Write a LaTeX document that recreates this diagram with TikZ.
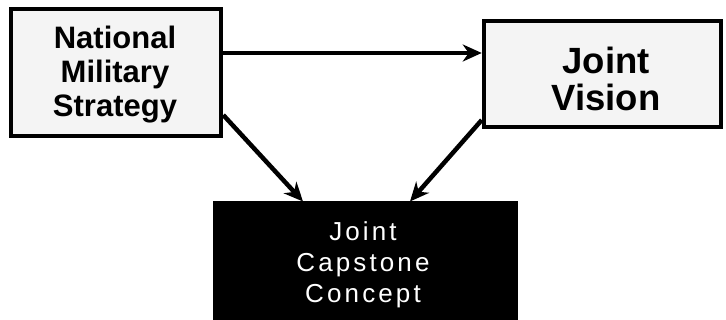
\documentclass[tikz,border=0pt]{standalone}
\usepackage{fontspec}
\setmainfont{Liberation Sans}
\usetikzlibrary{arrows.meta}
\begin{document}
\begin{tikzpicture}[x=1pt,y=-1pt,
  lightbox/.style={draw=black,line width=4.5pt,fill=gray!9,inner sep=0pt,align=center,font=\bfseries},
  darkbox/.style={draw=black,fill=black,line width=1pt,inner sep=0pt,align=center,text=white},
  conn/.style={line width=4.5pt,-{Stealth[length=19pt,width=17pt,inset=6pt]}}]
\useasboundingbox (0,0) rectangle (726,320);
\clip (0,0) rectangle (726,320);
\fill[white] (0,0) rectangle (726,320);
\node[lightbox,minimum width=210pt,minimum height=127pt] (nms) at (116,72.5) {};
\node[align=center,font=\bfseries\fontsize{31}{34}\selectfont] (nmstext) at (115,75) {National\\Military\\Strategy};
\node[lightbox,minimum width=237pt,minimum height=106pt] (jv) at (602.5,74) {};
\node[align=center,font=\bfseries\fontsize{36.5}{37}\selectfont] (jvtext) at (606,79) {Joint\\Vision};
\node[darkbox,minimum width=304pt,minimum height=128pt] (cap) at (365,266) {};
\node[text=white,align=center,font=\fontsize{26}{31}\selectfont\addfontfeatures{LetterSpace=12}] (captext) at (363,265) {Joint\\Capstone\\Concept};
\coordinate (h) at (0,53);
\coordinate (l1) at (0,115);
\coordinate (l2) at (0,120);
\coordinate (c1) at (303,0);
\coordinate (c2) at (410,0);
\draw[conn] (nms.east |- h) -- (jv.west |- h);
\draw[conn] (nms.east |- l1) -- (cap.north -| c1);
\draw[conn] (jv.west |- l2) -- (cap.north -| c2);
\end{tikzpicture}
\end{document}
